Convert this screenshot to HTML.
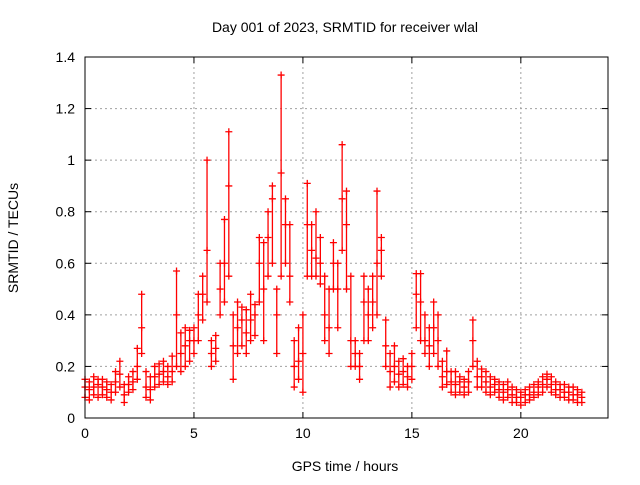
<!DOCTYPE html>
<html><head><meta charset="utf-8"><style>
body{margin:0;background:#fff;}
svg text{font-family:"Liberation Sans",sans-serif;font-size:14px;fill:#000;}
</style></head><body>
<svg id="chart" width="640" height="480" xmlns="http://www.w3.org/2000/svg">
<rect width="640" height="480" fill="#fff"/>
<g id="grid"></g><g id="marks"></g><g id="axes"></g>
</svg>
<script>
const xTicks=[0,5,10,15,20];
const yTicks=[0,0.2,0.4,0.6,0.8,1,1.2,1.4];
const yTickLabels=["0","0.2","0.4","0.6","0.8","1","1.2","1.4"];
const tStart=0, tStep=0.2;
const lo=[.08,.07,.09,.08,.09,.08,.07,.10,.12,.06,.10,.11,.15,.25,.08,.07,.12,.13,.14,.13,.14,.20,.18,.20,.22,.25,.30,.38,.45,.20,.22,.40,.45,.55,.15,.25,.28,.25,.30,.32,.45,.30,.55,.60,.25,.55,.60,.45,.12,.15,.10,.55,.55,.55,.52,.30,.25,.50,.35,.65,.50,.20,.20,.15,.30,.30,.35,.40,.55,.20,.12,.14,.12,.13,.12,.15,.35,.30,.25,.20,.25,.20,.12,.13,.10,.09,.10,.09,.10,.20,.12,.12,.10,.09,.10,.08,.07,.08,.06,.06,.05,.06,.07,.08,.09,.10,.12,.10,.09,.08,.08,.07,.07,.06,.06];
const mid=[.12,.11,.12,.13,.12,.11,.10,.14,.17,.09,.13,.14,.20,.35,.12,.11,.16,.17,.18,.16,.18,.40,.25,.28,.30,.30,.40,.48,.65,.25,.27,.50,.60,.90,.28,.35,.38,.33,.38,.40,.60,.50,.70,.85,.40,.95,.75,.55,.20,.22,.25,.75,.65,.62,.60,.40,.35,.60,.50,.85,.75,.30,.25,.20,.45,.40,.45,.60,.65,.28,.18,.20,.17,.18,.16,.20,.48,.45,.30,.28,.35,.30,.16,.18,.14,.13,.14,.12,.14,.30,.16,.16,.14,.12,.13,.11,.10,.11,.09,.08,.08,.09,.09,.10,.12,.13,.15,.13,.11,.11,.10,.10,.09,.09,.08];
const hi=[.15,.14,.16,.15,.15,.14,.13,.18,.22,.13,.16,.18,.27,.48,.18,.16,.20,.21,.22,.20,.24,.57,.33,.35,.34,.35,.48,.55,1.0,.30,.32,.60,.77,1.11,.40,.45,.43,.42,.48,.44,.70,.68,.80,.90,.50,1.33,.85,.75,.30,.35,.40,.91,.75,.80,.70,.55,.50,.68,.60,1.06,.88,.55,.30,.25,.55,.50,.55,.88,.70,.38,.25,.28,.22,.23,.20,.25,.56,.56,.40,.35,.45,.40,.22,.26,.18,.18,.16,.15,.18,.38,.22,.19,.18,.16,.15,.14,.13,.14,.12,.11,.10,.11,.12,.13,.14,.16,.17,.16,.14,.13,.13,.12,.12,.11,.10];
const X0=85,X1=608,Y0=418,Y1=57,XMAX=24,YMAX=1.4;
const xs=v=>X0+(X1-X0)*v/XMAX, ys=v=>Y0-(Y0-Y1)*v/YMAX;
const NS="http://www.w3.org/2000/svg";
function mk(p,tag,a){const e=document.createElementNS(NS,tag);for(const k in a)e.setAttribute(k,a[k]);p.appendChild(e);return e;}
const grid=document.getElementById('grid'),marks=document.getElementById('marks'),axes=document.getElementById('axes');
xTicks.forEach((t,i)=>{
  if(t>0){const g=mk(grid,'line',{x1:xs(t),x2:xs(t),y1:Y1,y2:Y0,stroke:'#a0a0a0','stroke-dasharray':'2,3'});
  
  }
  mk(axes,'line',{x1:xs(t),x2:xs(t),y1:Y0,y2:Y0-6,stroke:'#000'});
  mk(axes,'line',{x1:xs(t),x2:xs(t),y1:Y1,y2:Y1+6,stroke:'#000'});
  const tx=mk(axes,'text',{x:xs(t),y:Y0+20,'text-anchor':'middle'});tx.textContent=t;
  
  
});
yTicks.forEach((t,i)=>{
  if(t>0&&t<YMAX){const g=mk(grid,'line',{x1:X0,x2:X1,y1:ys(t),y2:ys(t),stroke:'#a0a0a0','stroke-dasharray':'2,3'});
  
  }
  mk(axes,'line',{x1:X0,x2:X0+6,y1:ys(t),y2:ys(t),stroke:'#000'});
  mk(axes,'line',{x1:X1,x2:X1-6,y1:ys(t),y2:ys(t),stroke:'#000'});
  const tx=mk(axes,'text',{x:X0-10,y:ys(t)+5,'text-anchor':'end'});tx.textContent=yTickLabels[i];
  
  
});
const fr=mk(axes,'rect',{x:X0,y:Y1,width:X1-X0,height:Y0-Y1,fill:'none',stroke:'#000'});


function plus(x,y,c){const p=mk(marks,'path',{d:`M${x-3.5},${y}h7M${x},${y-3.5}v7`,stroke:c,'stroke-width':1.3,fill:'none'});return p;}
for(let i=0;i<mid.length;i++){
  const x=xs(tStart+i*tStep);
  const l=mk(marks,'line',{x1:x,x2:x,y1:ys(lo[i]),y2:ys(hi[i]),stroke:'#f00','stroke-width':1.3});
  
  
  [lo[i],mid[i],hi[i]].forEach(v=>{
    const p=plus(x,ys(v),'#f00');
    
    
  });
}
const title=mk(axes,'text',{x:345,y:32,'text-anchor':'middle'});title.textContent='Day 001 of 2023, SRMTID for receiver wlal';


const xl=mk(axes,'text',{x:345,y:471,'text-anchor':'middle'});xl.textContent='GPS time / hours';


const yl=mk(axes,'text',{x:0,y:0,'text-anchor':'middle',transform:'translate(18,238) rotate(-90)'});yl.textContent='SRMTID / TECUs';


</script>
</body></html>
